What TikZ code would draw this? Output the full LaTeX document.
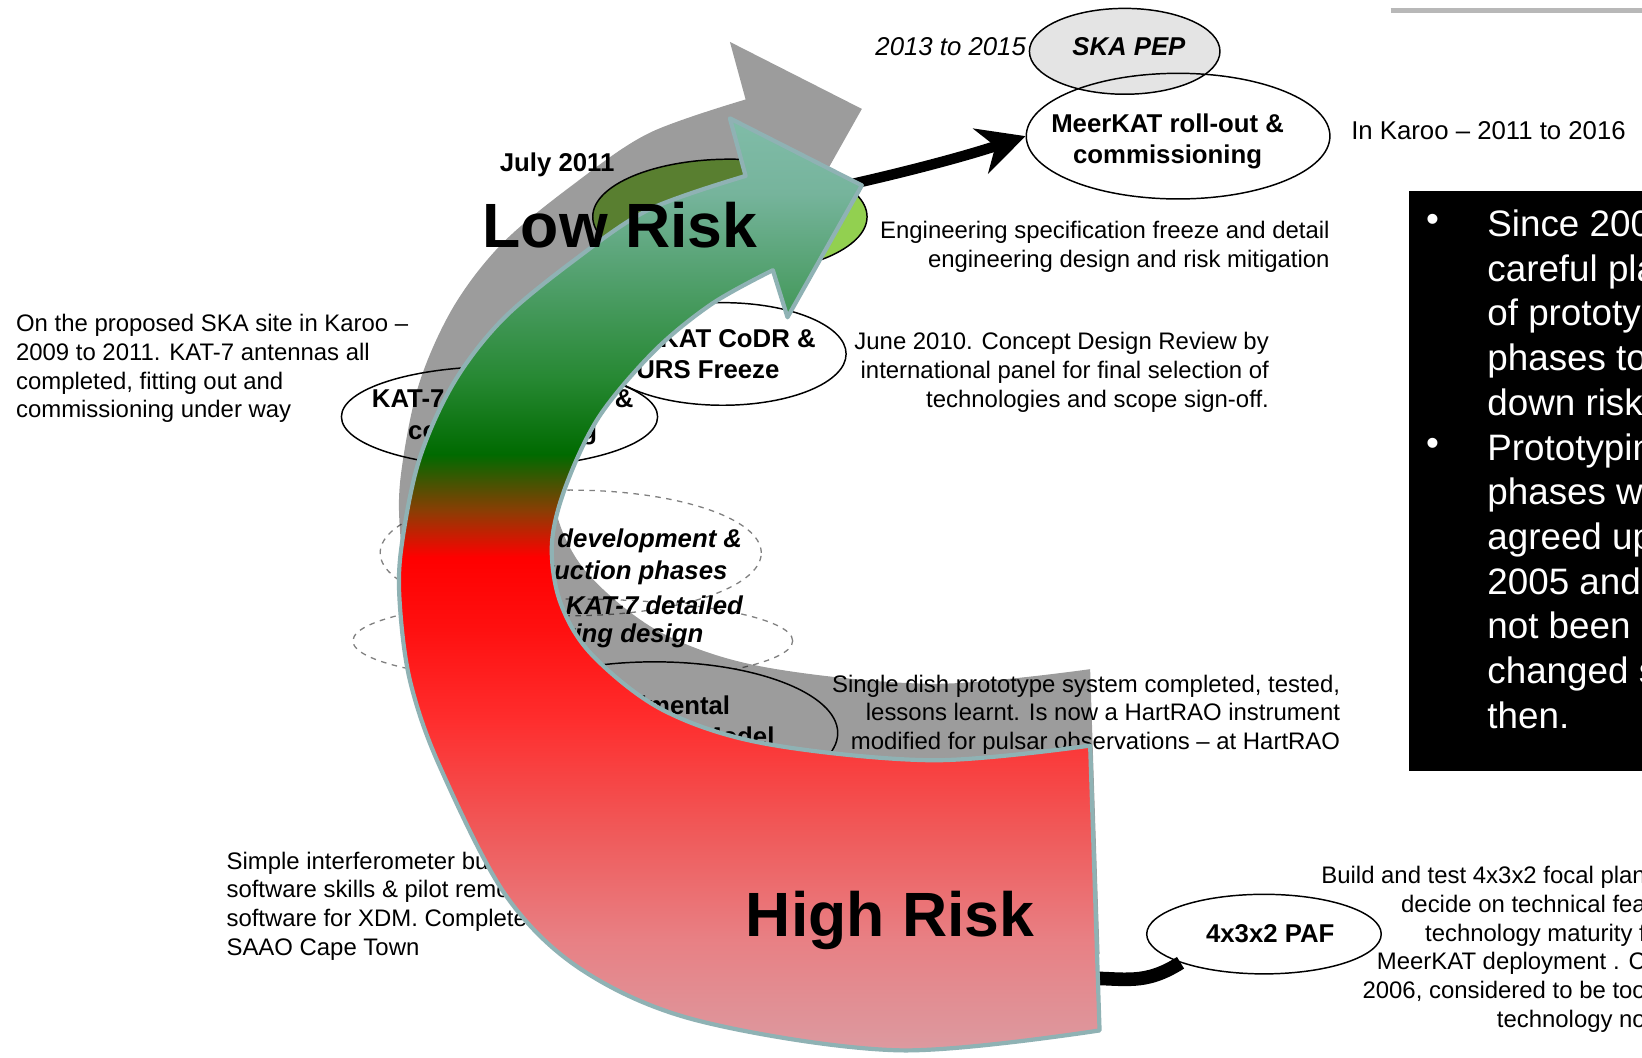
\documentclass[tikz,border=0pt]{standalone}
\usepackage{fontspec}
\setmainfont{Liberation Sans}
\usetikzlibrary{shapes.geometric}
\usetikzlibrary{arrows.meta}

\definecolor{freezegreen}{HTML}{92D050}
\definecolor{pepgray}{HTML}{E4E4E4}
\definecolor{dashgray}{HTML}{808080}
\definecolor{riskedge}{HTML}{8FB2B4}
\definecolor{riskpink}{HTML}{DC9AA0}
\definecolor{risksalmon}{HTML}{E88084}
\definecolor{riskrose}{HTML}{F05858}
\definecolor{riskred2}{HTML}{FF2C2C}
\definecolor{riskred1}{HTML}{FF1010}
\definecolor{riskred}{HTML}{FF0000}
\definecolor{riskbrown}{HTML}{8A3E04}
\definecolor{riskdark}{HTML}{006A00}
\definecolor{riskgreen}{HTML}{268832}
\definecolor{riskmid}{HTML}{4E9E68}
\definecolor{riskteal}{HTML}{76B49C}
\definecolor{risktop}{HTML}{80BCA8}

% colour run of the big arrow, bottom (high risk) to top (low risk)
\pgfdeclareverticalshading{riskshade}{100bp}{color(0bp)=(riskpink); color(25bp)=(riskpink);
  color(31bp)=(risksalmon); color(37bp)=(riskrose); color(43bp)=(riskred2);
  color(47.6bp)=(riskred1); color(51.5bp)=(riskred); color(54bp)=(riskbrown);
  color(57bp)=(riskdark); color(61bp)=(riskgreen); color(66bp)=(riskmid);
  color(71bp)=(riskteal); color(75bp)=(risktop); color(100bp)=(risktop)}

% outline of the big curved arrow
\newcommand{\riskarrow}{(712,168) -- (697,113) -- (823,177) -- (752,303) -- (738,258)
  -- plot[smooth, tension=0.55] coordinates {(738,258) (680,290) (625,335) (572,398)
     (540,465) (527,520) (535,575) (565,625) (633,678) (730,710) (891,726) (1041,712)}
  -- (1050,984)
  -- plot[smooth, tension=0.55] coordinates {(1050,984) (859,1003) (668,975) (557,927)
     (483,855) (420,732) (392,652) (382,580) (383,525) (400,440) (433,366) (480,305)
     (549,248) (620,200) (712,168)}
  -- cycle}

\begin{document}
\begin{tikzpicture}[
            x = 0.02cm, y = -0.02cm, % pixel grid, y runs downwards
            > = {Stealth[length=0.9cm, width=0.9cm]}, % arrow head style
            note/.style = {font=\fontsize{13}{15.6}\selectfont, inner sep=0pt},
            phase/.style = {ellipse, draw, fill=white, line width=0.8pt, inner sep=0pt},
            dashphase/.style = {ellipse, draw=dashgray, dashed, line width=0.7pt, inner sep=0pt},
            phasetext/.style = {font=\fontsize{14}{17}\selectfont\bfseries, align=center, inner sep=0pt},
            devtext/.style = {font=\fontsize{14}{17}\selectfont\bfseries\itshape, inner sep=0pt},
            risktext/.style = {font=\fontsize{34}{40}\selectfont\bfseries, inner sep=0pt},
            link/.style = {line width=0.2cm} % thick black connector
        ]

        \useasboundingbox (0,0) rectangle (1568,1010);
        \fill[white] (0,0) rectangle (1568,1010);
        \draw[line width=0.1cm, draw=black!28] (1328,10) -- (1570,10);

        % side box
        \node[fill=black, minimum width=4.6cm, minimum height=11.08cm, anchor=north west, inner sep=0pt] (whybox) at (1345,182) {};
        \node[text=white, font=\fontsize{20}{24}\selectfont, inner sep=0pt] (bulletA) at (1368,213) {•};
        \node[text=white, font=\fontsize{20}{24}\selectfont, inner sep=0pt] (bulletB) at (1368,427) {•};
        \node[text=white, font=\fontsize{20}{24.3}\selectfont, anchor=north west, align=left, inner sep=0pt] (whytext) at (1420,200)
            {Since 200\\careful pla\\of prototy\\phases to\\down risk\\Prototypin\\phases w\\agreed up\\2005 and\\not been\\changed s\\then.};

        % notes
        \node[note, anchor=north west, align=left] (kat7note) at (15,300)
            {On the proposed SKA site in Karoo –\\2009 to 2011. KAT-7 antennas all\\completed, fitting out and\\commissioning under way};
        \node[note, anchor=north east, align=right] (freezenote) at (1270,211)
            {Engineering specification freeze and detail\\engineering design and risk mitigation};
        \node[note, anchor=north east, align=right] (codrnote) at (1212,317)
            {June 2010. Concept Design Review by\\international panel for final selection of\\technologies and scope sign-off.};
        \node[note, anchor=north east, align=right] (dishnote) at (1280,644)
            {Single dish prototype system completed, tested,\\lessons learnt. Is now a HartRAO instrument\\modified for pulsar observations – at HartRAO};
        \node[note, anchor=north west, align=left] (xdmnote) at (216,813)
            {Simple interferometer built\\software skills \& pilot remote\\software for XDM. Completed\\SAAO Cape Town};
        \node[note, anchor=north east, align=right] (pafnote) at (1572,827)
            {Build and test 4x3x2 focal plan\\decide on technical fea\\technology maturity f\\MeerKAT deployment . C\\2006, considered to be too\\technology no};
        \node[font=\fontsize{14}{17}\selectfont, anchor=west, inner sep=0pt] (karoonote) at (1290,125) {In Karoo – 2011 to 2016};
        \node[font=\fontsize{14}{17}\selectfont\itshape, anchor=east, inner sep=0pt] (pepdate) at (980,45) {2013 to 2015};
        \node[phasetext] (julydate) at (532,157) {July 2011};

        % phases
        \node[phase, fill=pepgray, minimum width=3.64cm, minimum height=1.64cm] (pep) at (1074,49) {};
        \node[phasetext, font=\fontsize{14}{17}\selectfont\bfseries\itshape] at (1078,45) {SKA PEP};
        \node[phase, fill=none, minimum width=5.8cm, minimum height=2.4cm] (meerkat) at (1125,130) {};
        \node[phasetext] at (1115,135) {MeerKAT roll-out \&\\commissioning};

        \node[phase, fill=freezegreen, minimum width=5.24cm, minimum height=2.2cm] (freeze) at (697,207) {};
        \node[phase, minimum width=4.72cm, minimum height=1.96cm] (codr) at (690,338) {};
        \node[phasetext] at (676,338) {MeerKAT CoDR \&\\URS Freeze};
        \node[phase, minimum width=6.04cm, minimum height=1.92cm] (kat7) at (477,398) {};
        \node[phasetext] at (480,398) {KAT-7 construction \&\\commissioning};

        \node[dashphase, minimum width=7.28cm, minimum height=2.4cm] (devel) at (545,528) {};
        \node[dashphase, minimum width=8.4cm, minimum height=1.6cm] (detail) at (547,612) {};
        \node[devtext, anchor=west] at (532,516) {development \&};
        \node[devtext, anchor=east] at (695,547) {construction phases};
        \node[devtext, anchor=west] at (540,578) {KAT-7 detailed};
        \node[devtext, anchor=east] at (672,607) {engineering design};

        \node[phase, minimum width=7cm, minimum height=2.72cm] (xdm) at (625,700) {};
        \node[phasetext] at (620,688) {Experimental\\Demonstrator Model};

        \node[phase, minimum width=4.48cm, minimum height=1.52cm] (paf) at (1207,892) {};
        \node[phasetext] at (1213,892) {4x3x2 PAF};

        % connectors (their ends hide under the big arrow)
        \coordinate (headend) at (785,182);
        \coordinate (tailend) at (1035,934);
        \draw[link, ->] (headend) .. controls +(70,-15) and +(-60,20) .. (meerkat.west);
        \draw[link, line width=0.26cm] (paf.south west) .. controls +(-35,22) and +(40,0) .. (tailend);

        % shadow of the big arrow
        \begin{scope}[shift={(0,-73)}]
            \fill[black, opacity=0.39] \riskarrow;
        \end{scope}

        % big arrow
        \shadedraw[shading=riskshade, draw=riskedge, line width=0.08cm, line join=round] \riskarrow;

        \node[risktext] (lowrisk) at (592,215) {Low Risk};
        \node[risktext] (highrisk) at (850,879) {High Risk};

\end{tikzpicture}
\end{document}
